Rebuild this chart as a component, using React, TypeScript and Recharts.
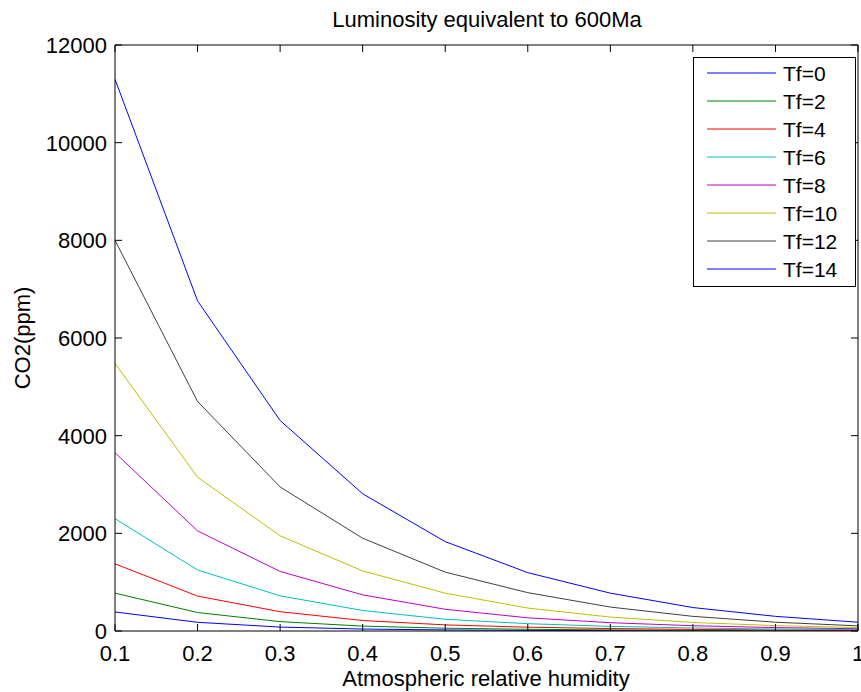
import React from "react";
import { LineChart, Line, XAxis, YAxis, Legend } from "recharts";

const HUMIDITY = [0.1, 0.2, 0.3, 0.4, 0.5, 0.6, 0.7, 0.8, 0.9, 1.0];
const X_TICKS = [0.1, 0.2, 0.3, 0.4, 0.5, 0.6, 0.7, 0.8, 0.9, 1];
const Y_TICKS = [0, 2000, 4000, 6000, 8000, 10000, 12000];

const TF0 = [390, 178, 80, 40, 22, 13, 8, 5, 3, 2];
const TF2 = [775, 378, 192, 100, 57, 35, 22, 14, 9, 6];
const TF4 = [1375, 715, 395, 215, 125, 78, 50, 32, 21, 14];
const TF6 = [2300, 1250, 720, 420, 240, 150, 95, 62, 40, 27];
const TF8 = [3650, 2050, 1220, 740, 445, 270, 170, 108, 70, 46];
const TF10 = [5480, 3150, 1950, 1230, 775, 470, 285, 175, 110, 70];
const TF12 = [8000, 4700, 2950, 1900, 1205, 785, 490, 300, 180, 105];
const TF14 = [11300, 6760, 4310, 2810, 1830, 1195, 775, 480, 300, 180];

const SERIES_NAMES = ["Tf=0", "Tf=2", "Tf=4", "Tf=6", "Tf=8", "Tf=10", "Tf=12", "Tf=14"];
const SERIES_KEYS = ["tf0", "tf2", "tf4", "tf6", "tf8", "tf10", "tf12", "tf14"];
const SERIES_VALUES = [TF0, TF2, TF4, TF6, TF8, TF10, TF12, TF14];
const COLORS = ["#0000ff", "#008000", "#ff0000", "#00bfbf", "#bf00bf", "#bfbf00", "#404040", "#0000ff"];

const TITLE = "Luminosity equivalent to 600Ma";
const X_LABEL = "Atmospheric relative humidity";
const Y_LABEL = "CO2(ppm)";

const data = HUMIDITY.map((h, i) => {
  const row: Record<string, number> = { h };
  SERIES_KEYS.forEach((k, j) => {
    row[k] = SERIES_VALUES[j][i];
  });
  return row;
});

const FONT = "'Liberation Sans', Arial, Helvetica, sans-serif";
const FS = 22;
const TICK_LEN = 7;

const BottomTick = (props: any) => {
  const { x, y, payload } = props;
  return (
    <g>
      <line x1={x} x2={x} y1={y} y2={y - TICK_LEN} stroke="#000" strokeWidth={1} />
      <text x={x} y={y + 30} textAnchor="middle" fontSize={FS} fontFamily={FONT} fill="#000">
        {String(payload.value)}
      </text>
    </g>
  );
};

const LeftTick = (props: any) => {
  const { x, y, payload } = props;
  return (
    <g>
      <line x1={x + 8} x2={x + 8 + TICK_LEN} y1={y} y2={y} stroke="#000" strokeWidth={1} />
      <text x={x} y={y + 8} textAnchor="end" fontSize={FS} fontFamily={FONT} fill="#000">
        {String(payload.value)}
      </text>
    </g>
  );
};

const TopTick = (props: any) => {
  const { x, y } = props;
  return <line x1={x} x2={x} y1={y} y2={y + TICK_LEN} stroke="#000" strokeWidth={1} />;
};

const RightTick = (props: any) => {
  const { x, y } = props;
  return <line x1={x} x2={x - TICK_LEN} y1={y} y2={y} stroke="#000" strokeWidth={1} />;
};

const LegendBox = () => (
  <svg width={163} height={230} style={{ display: "block" }}>
    <rect x={0.5} y={0.5} width={162} height={229} fill="#fff" stroke="#000" strokeWidth={1} />
    {SERIES_NAMES.map((name, i) => {
      const ly = 16 + 28 * i;
      return (
        <g key={name}>
          <line x1={14} x2={83} y1={ly} y2={ly} stroke={COLORS[i]} strokeWidth={1} />
          <text x={90} y={ly + 8} fontSize={21} fontFamily={FONT} fill="#000">
            {name}
          </text>
        </g>
      );
    })}
  </svg>
);

export default function App() {
  return (
    <div
      style={{
        position: "absolute",
        left: 0,
        top: 0,
        width: 861,
        height: 692,
        background: "#fff",
        fontFamily: FONT,
      }}
    >
      <LineChart
        width={861}
        height={692}
        data={data}
        margin={{ top: 40, right: 0, bottom: 31, left: 35 }}
      >
        <XAxis
          xAxisId={0}
          dataKey="h"
          type="number"
          domain={[0.1, 1]}
          ticks={X_TICKS}
          interval={0}
          allowDataOverflow
          height={30}
          tickSize={0}
          tickMargin={0}
          tickLine={false}
          axisLine={{ stroke: "#000", strokeWidth: 1 }}
          tick={<BottomTick />}
        />
        <XAxis
          xAxisId="top"
          orientation="top"
          dataKey="h"
          type="number"
          domain={[0.1, 1]}
          ticks={X_TICKS}
          interval={0}
          allowDataOverflow
          height={5}
          tickSize={0}
          tickMargin={0}
          tickLine={false}
          axisLine={{ stroke: "#000", strokeWidth: 1 }}
          tick={<TopTick />}
        />
        <YAxis
          yAxisId={0}
          type="number"
          domain={[0, 12000]}
          ticks={Y_TICKS}
          interval={0}
          allowDataOverflow
          width={80}
          tickSize={0}
          tickMargin={8}
          tickLine={false}
          axisLine={{ stroke: "#000", strokeWidth: 1 }}
          tick={<LeftTick />}
        />
        <YAxis
          yAxisId="right"
          orientation="right"
          type="number"
          domain={[0, 12000]}
          ticks={Y_TICKS}
          interval={0}
          allowDataOverflow
          width={3}
          tickSize={0}
          tickMargin={0}
          tickLine={false}
          axisLine={{ stroke: "#000", strokeWidth: 1 }}
          tick={<RightTick />}
        />
        {SERIES_KEYS.map((k, i) => (
          <Line
            key={k}
            xAxisId={0}
            yAxisId={0}
            type="linear"
            dataKey={k}
            name={SERIES_NAMES[i]}
            stroke={COLORS[i]}
            strokeWidth={1}
            dot={false}
            activeDot={false}
            isAnimationActive={false}
          />
        ))}
        <Legend
          layout="vertical"
          align="center"
          verticalAlign="middle"
          content={<LegendBox />}
          wrapperStyle={{ left: 693, top: 57, right: "auto", bottom: "auto", width: 163, height: 230 }}
        />
      </LineChart>
      <svg
        width={861}
        height={692}
        style={{ position: "absolute", left: 0, top: 0, pointerEvents: "none" }}
      >
        <text x={487} y={27} textAnchor="middle" fontSize={FS} fontFamily={FONT} fill="#000">
          {TITLE}
        </text>
        <text x={486} y={686} textAnchor="middle" fontSize={FS} fontFamily={FONT} fill="#000">
          {X_LABEL}
        </text>
        <text
          x={0}
          y={0}
          transform="translate(30 338) rotate(-90)"
          textAnchor="middle"
          fontSize={FS}
          fontFamily={FONT}
          fill="#000"
        >
          {Y_LABEL}
        </text>
      </svg>
    </div>
  );
}
